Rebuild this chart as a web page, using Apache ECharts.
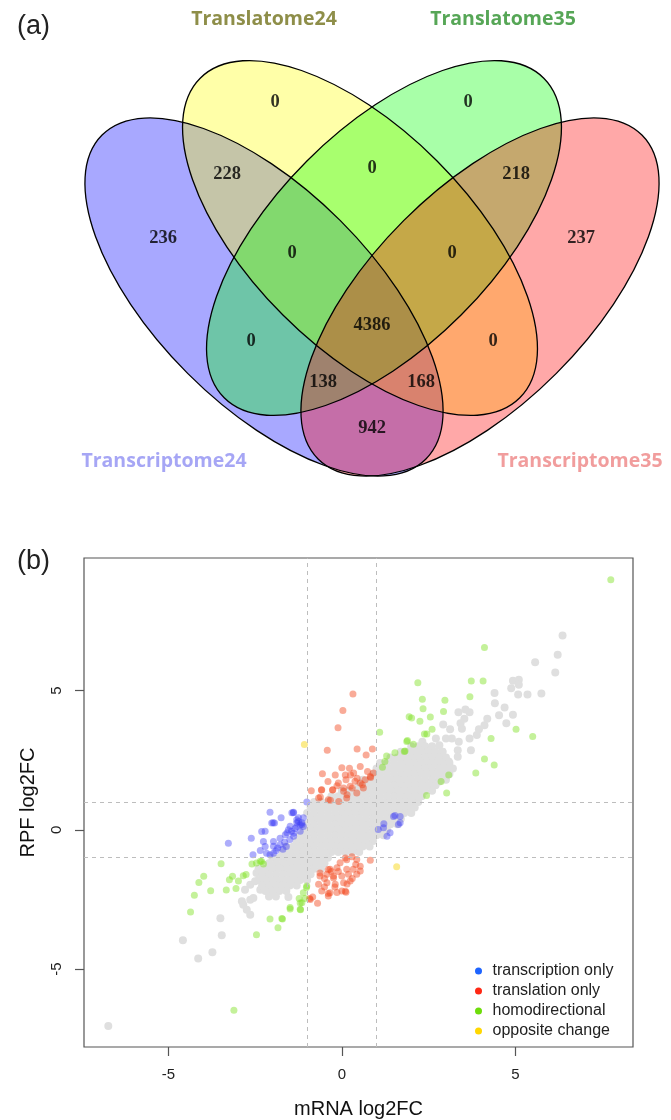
<!DOCTYPE html>
<html><head><meta charset="utf-8">
<script src="https://cdn.jsdelivr.net/npm/echarts@6/dist/echarts.min.js"></script>
<style>html,body{margin:0;padding:0;background:#fff;}#c{width:671px;height:1120px;}</style>
</head><body><div id="c"></div>
<script>
// ================= DATA =================
// Venn (a)
const setNames = ['Transcriptome24', 'Translatome24', 'Translatome35', 'Transcriptome35'];
// region counts: T24 only, TL24 only, TL35 only, T35 only, T24&TL24, TL24&TL35, TL35&T35,
// T24&TL24&TL35, TL24&TL35&T35, all four, T24&TL35, TL24&T35, T24&TL35&T35, T24&TL24&T35, T24&T35
const regionCounts = [236, 0, 0, 237, 228, 0, 218, 0, 0, 4386, 0, 0, 138, 168, 942];

// Scatter (b)
const seriesNames = ['transcription only', 'translation only', 'homodirectional', 'opposite change'];
const foldThresholds = [-1, 1];
const tickValues = [-5, 0, 5];

const transcriptionOnly = [
[-3.27,-0.48],[-2.61,-0.30],[-2.56,-0.90],[-2.35,-0.74],[-2.31,-0.06],[-2.26,-0.42],[-2.21,-0.60],[-2.21,-0.05],[-2.17,-0.84],[-2.07,0.63],[-2.07,-0.90],[-2.02,0.24],[-1.98,0.25],[-1.97,-0.42],[-1.97,-0.84],[-1.97,-0.59],[-1.94,0.24],[-1.90,-0.75],[-1.85,-0.65],[-1.78,-0.54],[-1.78,-0.30],[-1.75,0.43],[-1.70,-0.70],[-1.65,-0.45],[-1.63,-0.18],[-1.60,-0.60],[-1.58,-0.11],[-1.54,0.00],[-1.50,-0.35],[-1.49,0.13],[-1.45,-0.05],[-1.44,0.61],[-1.40,0.61],[-1.39,-0.12],[-1.39,0.63],[-1.39,-0.23],[-1.35,0.05],[-1.30,0.12],[-1.30,0.25],[-1.30,0.36],[-1.25,0.43],[-1.25,0.30],[-1.20,0.18],[-1.20,-0.05],[-1.15,0.25],[-1.15,0.19],[-1.11,0.43],[-1.11,0.12],[-1.01,1.00],
[1.05,0.01],[1.20,0.07],[1.21,0.22],[1.30,-0.23],[1.39,-0.11],[1.49,0.48],[1.53,0.51],[1.63,0.19],[1.68,0.48],[1.68,0.25]
];
const translationOnly = [
[0.32,4.88],[0.03,4.28],[-0.11,3.66],[-0.42,2.86],[0.44,2.90],[0.88,2.90],[0.70,2.69],[0.00,2.23],[0.22,2.21],[0.53,2.27],[-0.56,2.01],[-0.19,1.97],[0.10,1.97],[0.25,1.97],[0.34,2.04],[0.74,2.09],[0.82,1.91],[0.91,2.04],[-0.40,1.73],[-0.10,1.68],[0.12,1.80],[0.38,1.74],[0.67,1.80],[0.83,1.88],[0.44,1.85],[-0.14,1.58],[0.24,1.56],[0.53,1.68],[0.59,1.62],[-0.27,1.43],[-0.26,1.44],[-0.59,1.43],[-0.88,1.40],[-0.58,1.44],[0.05,1.50],[0.30,1.50],[0.62,1.50],[0.05,1.38],[0.43,1.32],[0.15,1.26],[-0.62,1.18],[-0.67,1.14],[-0.33,1.06],[-0.39,1.08],[-0.09,1.02],[0.14,1.14],
[0.82,-1.09],[0.43,-1.07],[0.14,-1.08],[0.10,-1.01],[0.29,-0.97],[-0.05,-1.18],[0.53,-1.31],[0.40,-1.25],[-0.34,-1.42],[-0.14,-1.36],[0.14,-1.42],[0.33,-1.42],[0.53,-1.48],[-0.39,-1.43],[-0.10,-1.50],[-0.30,-1.50],[-0.63,-1.55],[-0.63,-1.66],[-0.43,-1.60],[-0.24,-1.66],[0.00,-1.66],[0.19,-1.60],[0.43,-1.60],[-0.24,-1.73],[-0.50,-1.75],[0.30,-1.75],[-0.67,-1.96],[-0.43,-1.90],[-0.19,-1.96],[0.05,-1.90],[0.24,-1.84],[0.15,-1.95],[-0.20,-2.05],[-0.50,-2.05],[-0.58,-2.20],[-0.34,-2.26],[0.00,-2.20],[0.10,-2.21],[-0.14,-2.25],[-0.39,-2.29],[-0.39,-2.38],[0.12,-2.24],[-0.84,-2.41],[-0.91,-2.50],[-0.93,-2.47],[-0.70,-2.64]
];
const homodirectional = [
[7.75,8.98],[4.11,6.55],[3.73,5.34],[4.07,5.34],[2.19,5.28],[2.32,4.69],[2.97,4.65],[3.69,4.78],[2.34,4.35],[2.93,4.25],[1.94,4.06],[2.01,4.01],[2.25,3.90],[2.55,4.05],[2.60,3.61],[2.38,3.44],[2.45,3.44],[1.89,3.21],[2.06,3.07],[1.87,3.17],[1.09,3.50],[1.53,2.77],[1.80,2.81],[1.29,2.65],[1.24,2.45],[1.17,2.25],[1.82,2.83],[5.02,3.61],[5.50,3.35],[4.30,3.28],[4.11,2.54],[4.39,2.33],[3.86,2.04],[3.08,1.97],[3.02,1.32],[2.86,1.73],[2.44,1.23],
[-3.11,-6.48],[-4.36,-2.95],[-4.25,-2.35],[-4.12,-1.89],[-3.98,-1.67],[-3.78,-2.19],[-3.48,-1.22],[-3.33,-2.16],[-3.24,-1.79],[-3.15,-1.67],[-3.05,-2.11],[-2.98,-1.84],[-2.84,-1.65],[-2.76,-1.61],[-2.59,-1.23],[-2.46,-1.19],[-2.35,-1.13],[-2.31,-1.14],[-2.26,-1.23],[-2.46,-3.77],[-2.07,-3.20],[-1.84,-3.52],[-1.73,-3.19],[-1.71,-3.20],[-1.49,-2.84],[-1.49,-2.79],[-1.23,-2.47],[-1.20,-2.63],[-1.20,-2.85],[-1.19,-2.87],[-1.15,-2.62],[-1.11,-2.26],[-1.06,-2.47],[-1.02,-2.07],[-1.01,-2.02]
];
const oppositeChange = [[-1.08,3.06],[1.58,-1.33]];

const grayIsolated = [
[6.36,6.98],[6.22,6.29],[6.15,5.65],[5.57,6.02],[4.93,5.35],[5.10,5.39],[5.10,5.21],[4.88,5.08],[5.35,4.86],[5.75,4.89],[5.08,4.86],[4.40,4.91],[4.41,4.54],[4.69,4.39],[4.53,4.11],[4.74,3.83],[4.93,4.13],[3.36,4.22],[3.56,4.32],[3.68,4.22],[3.53,3.99],[3.42,3.83],[3.46,3.63],[2.92,3.78],[3.12,3.61],[2.71,3.28],[3.00,3.28],[3.17,3.28],[3.37,3.16],[3.68,3.28],[3.89,3.40],[3.95,3.61],[4.11,3.75],[4.19,3.99],[3.72,2.86],[3.34,2.86],[3.34,2.62],[2.81,3.04],[2.90,2.80],[2.95,2.57],[2.71,2.57],[2.54,2.74],[2.47,2.21],[2.37,1.73],[2.28,1.62],[2.13,2.09],[1.94,2.21],[2.03,2.68],[2.32,3.16],[2.69,2.09],[2.81,1.73],[3.08,2.45],
[-6.73,-7.05],[-4.58,-3.97],[-4.14,-4.62],[-3.73,-4.40],[-3.46,-3.79],[-3.50,-3.18],[-2.84,-2.69],[-2.74,-2.87],[-2.64,-3.05],[-2.88,-2.57],[-2.64,-2.51],[-2.55,-2.45],[-2.79,-2.15],[-2.64,-1.97],[-2.50,-1.85],[-2.46,-1.55],[-2.31,-1.43],[-2.21,-1.61],[-2.35,-2.15],[-2.17,-2.03],[-1.97,-2.15],[-1.78,-2.03],[-1.54,-2.41]
];
// dense central cloud, read row by row: [RPF log2FC, [mRNA log2FC ...]]
const grayCloudRows = [
[3.0,[2.0,2.2,2.4,2.6]],
[2.8,[1.7,1.9,2.1,2.3,2.5,2.7,2.9]],
[2.6,[1.4,1.6,1.8,2.0,2.2,2.4,2.6,2.8,3.0]],
[2.4,[1.1,1.3,1.5,1.7,1.9,2.1,2.3,2.5,2.7,2.9,3.1]],
[2.2,[1.0,1.2,1.4,1.6,1.8,2.0,2.2,2.4,2.6,2.8,3.0,3.2]],
[2.0,[0.9,1.1,1.3,1.5,1.7,1.9,2.1,2.3,2.5,2.7,2.9,3.1]],
[1.8,[0.6,0.8,1.0,1.2,1.4,1.6,1.8,2.0,2.2,2.4,2.6,2.8,3.0]],
[1.6,[0.5,0.7,0.9,1.1,1.3,1.5,1.7,1.9,2.1,2.3,2.5,2.7]],
[1.4,[0.0,0.2,0.4,0.6,0.8,1.0,1.2,1.4,1.6,1.8,2.0,2.2,2.4,2.6]],
[1.2,[-0.3,-0.1,0.1,0.3,0.5,0.7,0.9,1.1,1.3,1.5,1.7,1.9,2.1,2.3]],
[1.0,[-0.8,-0.6,-0.4,-0.2,0.0,0.2,0.4,0.6,0.8,1.0,1.2,1.4,1.6,1.8,2.0,2.2]],
[0.8,[-0.9,-0.7,-0.5,-0.3,-0.1,0.1,0.3,0.5,0.7,0.9,1.1,1.3,1.5,1.7,1.9,2.1]],
[0.6,[-1.0,-0.8,-0.6,-0.4,-0.2,0.0,0.2,0.4,0.6,0.8,1.0,1.2,1.4,1.6,1.8,2.0]],
[0.4,[-0.9,-0.7,-0.5,-0.3,-0.1,0.1,0.3,0.5,0.7,0.9,1.1,1.3,1.5,1.7]],
[0.2,[-1.0,-0.8,-0.6,-0.4,-0.2,0.0,0.2,0.4,0.6,0.8,1.0,1.2,1.4,1.6]],
[0.0,[-1.1,-0.9,-0.7,-0.5,-0.3,-0.1,0.1,0.3,0.5,0.7,0.9,1.1,1.3]],
[-0.2,[-1.2,-1.0,-0.8,-0.6,-0.4,-0.2,0.0,0.2,0.4,0.6,0.8,1.0,1.2]],
[-0.4,[-1.3,-1.1,-0.9,-0.7,-0.5,-0.3,-0.1,0.1,0.3,0.5,0.7,0.9]],
[-0.6,[-1.6,-1.4,-1.2,-1.0,-0.8,-0.6,-0.4,-0.2,0.0,0.2,0.4,0.6,0.8]],
[-0.8,[-1.7,-1.5,-1.3,-1.1,-0.9,-0.7,-0.5,-0.3,-0.1,0.1,0.3,0.5]],
[-1.0,[-2.0,-1.8,-1.6,-1.4,-1.2,-1.0,-0.8,-0.6,-0.4]],
[-1.2,[-2.1,-1.9,-1.7,-1.5,-1.3,-1.1,-0.9,-0.7,-0.5]],
[-1.4,[-2.4,-2.2,-2.0,-1.8,-1.6,-1.4,-1.2,-1.0,-0.8,-0.6]],
[-1.6,[-2.3,-2.1,-1.9,-1.7,-1.5,-1.3,-1.1,-0.9]],
[-1.8,[-2.4,-2.2,-2.0,-1.8,-1.6,-1.4,-1.2,-1.0]],
[-2.0,[-2.3,-2.1,-1.9,-1.7,-1.5,-1.3]],
[-2.2,[-2.2,-2.0,-1.8,-1.6]],
[-2.4,[-2.1,-1.9]]
];

// ================= LAYOUT / STYLE =================
// ellipse geometry in Venn pixel frame: centre, semi-axes, tilt (deg)
const vennEllipses = [
  {cx:264, cy:297, a:229, b:108, tilt:-45},
  {cx:360, cy:238, a:226, b:109, tilt:-45},
  {cx:384, cy:238, a:226, b:109, tilt:45},
  {cx:480, cy:297, a:229, b:108, tilt:45}
];
const vennFill = ['rgba(0,0,255,0.34)','rgba(255,255,0,0.34)','rgba(0,255,0,0.34)','rgba(255,0,0,0.34)'];
const setNameColors = ['#9090f2','#72721c','#2c902c','#ee8484'];
const setNamePos = [[164,461],[264,19],[503,19],[580,461]];
const regionLabelPos = [[163,238],[275,102],[468,102],[581,238],[227,174],[372,168],[516,174],[292,253],[452,253],[372,325],[251,341],[493,341],[323,382],[421,382],[372,428]];

const pointColors = ['#3b3bf5','#f2441a','#7de01e','#f7d200'];
const legendColors = ['#1e64ff','#ff2814','#6edc0a','#ffd700'];

const grayCloud = [];
grayCloudRows.forEach(r => r[1].forEach(x => grayCloud.push([x, r[0]])));
const grayAll = grayIsolated.concat(grayCloud);

const chart = echarts.init(document.getElementById('c'), null, {renderer:'canvas'});

function ellipseItem(api, fillMode, idx) {
  const c = api.coord([api.value(0), api.value(1)]);
  const s = api.size([api.value(2), api.value(3)]);
  return {
    type: 'ellipse',
    x: c[0], y: c[1],
    rotation: api.value(4) * Math.PI / 180,
    shape: {cx: 0, cy: 0, rx: Math.abs(s[0]), ry: Math.abs(s[1])},
    style: fillMode ? {fill: vennFill[idx], stroke: null} : {fill: null, stroke: '#000', lineWidth: 1.3}
  };
}
const ellipseData = vennEllipses.map(e => [e.cx, e.cy, e.a, e.b, e.tilt]);

const option = {
  animation: false,
  backgroundColor: '#fff',
  title: [
    {text: '(a)', left: 12, top: 8, textStyle: {fontFamily: 'Liberation Sans', fontSize: 27, fontWeight: 'normal', color: '#222'}},
    {text: '(b)', left: 12, top: 543, textStyle: {fontFamily: 'Liberation Sans', fontSize: 27, fontWeight: 'normal', color: '#222'}}
  ],
  grid: [
    {left: 0, top: 0, width: 671, height: 480, show: false},
    {left: 84, top: 558, right: 38, bottom: 72, show: true, borderColor: '#555', borderWidth: 1.2, backgroundColor: 'transparent'}
  ],
  xAxis: [
    {gridIndex: 0, type: 'value', min: 0, max: 671, show: false},
    {gridIndex: 1, type: 'value', min: -7.43, max: 8.39, position: 'bottom',
     axisLine: {show: false, onZero: false}, splitLine: {show: false},
     axisTick: {show: true, customValues: tickValues, length: 9, lineStyle: {color: '#555', width: 1.2}},
     axisLabel: {customValues: tickValues, fontFamily: 'Liberation Sans', fontSize: 15, color: '#222', margin: 20},
     name: 'mRNA log2FC', nameLocation: 'middle', nameGap: 52,
     nameTextStyle: {fontFamily: 'Liberation Sans', fontSize: 20, color: '#111'}}
  ],
  yAxis: [
    {gridIndex: 0, type: 'value', min: 0, max: 480, inverse: true, show: false},
    {gridIndex: 1, type: 'value', min: -7.8, max: 9.76, position: 'left',
     axisLine: {show: false, onZero: false}, splitLine: {show: false},
     axisTick: {show: true, customValues: tickValues, length: 9, lineStyle: {color: '#555', width: 1.2}},
     axisLabel: {customValues: tickValues, rotate: 90, fontFamily: 'Liberation Sans', fontSize: 15, color: '#222', margin: 20},
     name: 'RPF log2FC', nameLocation: 'middle', nameGap: 46, nameRotate: 90,
     nameTextStyle: {fontFamily: 'Liberation Sans', fontSize: 20, color: '#111'}}
  ],
  legend: {
    data: seriesNames.map((n, i) => ({name: n, itemStyle: {color: legendColors[i], opacity: 1}})),
    orient: 'vertical', left: 470, top: 958, itemWidth: 18, itemHeight: 7, itemGap: 4,
    icon: 'circle', selectedMode: false,
    textStyle: {fontFamily: 'Liberation Sans', fontSize: 16, color: '#222'}
  },
  series: [
    {type: 'custom', name: 'venn-fill', xAxisIndex: 0, yAxisIndex: 0, silent: true, z: 1,
     data: ellipseData, renderItem: (p, api) => ellipseItem(api, true, p.dataIndex)},
    {type: 'custom', name: 'venn-edge', xAxisIndex: 0, yAxisIndex: 0, silent: true, z: 2,
     data: ellipseData, renderItem: (p, api) => ellipseItem(api, false, p.dataIndex)},
    {type: 'scatter', name: 'venn-counts', xAxisIndex: 0, yAxisIndex: 0, silent: true, z: 3,
     symbolSize: 0,
     data: regionLabelPos.map((p, i) => [p[0], p[1], regionCounts[i]]),
     label: {show: true, position: 'inside', formatter: p => String(p.value[2]),
             fontFamily: 'Liberation Serif', fontWeight: 'bold', fontSize: 18.5, color: '#000'}},
    {type: 'scatter', name: 'venn-sets', xAxisIndex: 0, yAxisIndex: 0, silent: true, z: 3,
     symbolSize: 0,
     data: setNamePos.map((p, i) => ({value: [p[0], p[1]], name: setNames[i],
             label: {color: setNameColors[i]}})),
     label: {show: true, position: 'inside', formatter: p => p.name,
             fontFamily: 'Open Sans', fontWeight: 'bold', fontSize: 19.5}},
    {type: 'scatter', name: 'background genes', xAxisIndex: 1, yAxisIndex: 1, z: 3,
     symbolSize: 8, itemStyle: {color: '#dfdfdf', opacity: 1}, data: grayAll,
     markLine: {silent: true, symbol: 'none', label: {show: false},
       lineStyle: {type: [4, 4], color: '#bdbdbd', width: 1},
       data: foldThresholds.map(v => ({xAxis: v})).concat(foldThresholds.map(v => ({yAxis: v})))}},
    {type: 'scatter', name: seriesNames[0], xAxisIndex: 1, yAxisIndex: 1, z: 4,
     symbolSize: 7, itemStyle: {color: pointColors[0], opacity: 0.42}, data: transcriptionOnly},
    {type: 'scatter', name: seriesNames[1], xAxisIndex: 1, yAxisIndex: 1, z: 4,
     symbolSize: 7, itemStyle: {color: pointColors[1], opacity: 0.45}, data: translationOnly},
    {type: 'scatter', name: seriesNames[2], xAxisIndex: 1, yAxisIndex: 1, z: 4,
     symbolSize: 7, itemStyle: {color: pointColors[2], opacity: 0.45}, data: homodirectional},
    {type: 'scatter', name: seriesNames[3], xAxisIndex: 1, yAxisIndex: 1, z: 4,
     symbolSize: 7, itemStyle: {color: pointColors[3], opacity: 0.45}, data: oppositeChange}
  ]
};
chart.setOption(option);
</script></body></html>
